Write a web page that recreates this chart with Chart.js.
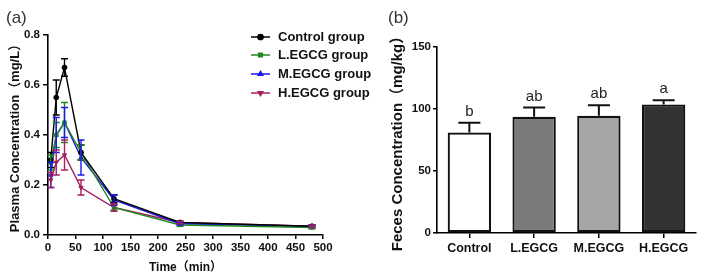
<!DOCTYPE html>
<html lang="en">
<head>
<meta charset="UTF-8">
<title>EGCG plasma and feces concentration</title>
<script src="https://cdn.jsdelivr.net/npm/chart.js"></script>
<style>
  html, body { margin: 0; padding: 0; background: #fff; }
  #wrap { position: relative; width: 702px; height: 280px; }
  #plasma { position: absolute; left: 0; top: 0; }
  #feces { position: absolute; left: 375px; top: 0; }
</style>
</head>
<body>
<div id="wrap">
  <canvas id="plasma" width="375" height="280"></canvas>
  <canvas id="feces" width="327" height="280"></canvas>
</div>
<script>
// (a) plasma concentration over time, mean and SD
const times = [5, 15, 30, 60, 120, 240, 480];
const groupNames = ['Control group', 'L.EGCG group', 'M.EGCG group', 'H.EGCG group'];
const controlMean = [0.30, 0.55, 0.67, 0.33, 0.145, 0.050, 0.035];
const controlErr  = [0.03, 0.07, 0.035, 0.03, 0.015, 0.005, 0.005];
const lowMean     = [0.29, 0.40, 0.45, 0.33, 0.110, 0.040, 0.030];
const lowErr      = [0.03, 0.05, 0.08, 0.03, 0.010, 0.005, 0.005];
const midMean     = [0.24, 0.40, 0.45, 0.31, 0.140, 0.045, 0.035];
const midErr      = [0.05, 0.07, 0.06, 0.07, 0.020, 0.005, 0.005];
const highMean    = [0.22, 0.29, 0.32, 0.19, 0.110, 0.050, 0.035];
const highErr     = [0.03, 0.05, 0.06, 0.03, 0.015, 0.005, 0.005];
const plasmaTicksY = [0, 0.2, 0.4, 0.6, 0.8];

// (b) feces concentration
const fecesLabels  = ['Control', 'L.EGCG', 'M.EGCG', 'H.EGCG'];
const fecesMean    = [81, 93.7, 94.5, 103.6];
const fecesErr     = [8, 7.5, 8.5, 3.5];
const fecesLetters = ['b', 'ab', 'ab', 'a'];

const FONT = 'Arial, "Liberation Sans", "Noto Sans CJK SC", sans-serif';
Chart.defaults.font.family = FONT;
Chart.defaults.color = '#111';

const lineColors = ['#000000', '#1f8a1f', '#1a1aee', '#a81e5e'];
const pointStyles = ['circle', 'rect', 'triangle', 'triangle'];
const pointRots = [0, 0, 0, 180];
const means = [controlMean, lowMean, midMean, highMean];
const errs = [controlErr, lowErr, midErr, highErr];

const plasmaSets = groupNames.map((name, i) => ({
  label: name,
  data: times.map((t, j) => ({ x: t, y: means[i][j] })),
  errors: errs[i],
  borderColor: lineColors[i],
  backgroundColor: lineColors[i],
  borderWidth: 1.4,
  pointStyle: pointStyles[i],
  pointRotation: pointRots[i],
  pointRadius: 2.4,
  pointBorderWidth: 1,
  tension: 0
}));

// error bars with small caps, drawn through the scales
const lineErrorBars = {
  id: 'lineErrorBars',
  afterDatasetsDraw(chart) {
    const ctx = chart.ctx, ys = chart.scales.y;
    chart.data.datasets.forEach((ds, i) => {
      const meta = chart.getDatasetMeta(i);
      ctx.save();
      ctx.strokeStyle = ds.borderColor;
      ctx.lineWidth = 1.4;
      meta.data.forEach((pt, j) => {
        const v = ds.data[j].y, e = ds.errors[j];
        const top = ys.getPixelForValue(v + e), bot = ys.getPixelForValue(v - e);
        ctx.beginPath();
        ctx.moveTo(pt.x, top); ctx.lineTo(pt.x, bot);
        ctx.moveTo(pt.x - 3.5, top); ctx.lineTo(pt.x + 3.5, top);
        ctx.moveTo(pt.x - 3.5, bot); ctx.lineTo(pt.x + 3.5, bot);
        ctx.stroke();
      });
      ctx.restore();
    });
  }
};

const lineLegend = {
  id: 'lineLegend',
  afterDraw(chart) {
    const ctx = chart.ctx;
    const rows = [37, 55, 74, 93];
    chart.data.datasets.forEach((ds, i) => {
      const y = rows[i];
      ctx.save();
      ctx.strokeStyle = ds.borderColor;
      ctx.fillStyle = ds.backgroundColor;
      ctx.lineWidth = 1.5;
      ctx.beginPath();
      ctx.moveTo(251, y); ctx.lineTo(270, y);
      ctx.stroke();
      Chart.helpers.drawPoint(ctx, { pointStyle: ds.pointStyle, rotation: ds.pointRotation, radius: 2.6, borderWidth: 1 }, 260.5, y);
      ctx.fillStyle = '#111';
      ctx.font = 'bold 13px ' + FONT;
      ctx.textBaseline = 'middle';
      ctx.fillText(ds.label, 278, y);
      ctx.restore();
    });
  }
};

function panelLabel(text, x) {
  return {
    id: 'panelLabel',
    afterDraw(chart) {
      const ctx = chart.ctx;
      ctx.save();
      ctx.fillStyle = '#333';
      ctx.font = '17px ' + FONT;
      ctx.textBaseline = 'alphabetic';
      ctx.fillText(text, x, 23);
      ctx.restore();
    }
  };
}

const axisGrid = { drawOnChartArea: false, drawTicks: true, tickLength: 5, color: '#000', lineWidth: 1.5 };
const axisBorder = { color: '#000', width: 1.6 };

new Chart(document.getElementById('plasma'), {
  type: 'line',
  data: { datasets: plasmaSets },
  options: {
    responsive: false,
    animation: false,
    layout: { padding: { top: 35, right: 52, left: 0, bottom: 0 } },
    plugins: { legend: { display: false }, tooltip: { enabled: false } },
    scales: {
      x: {
        type: 'linear', min: 0, max: 500,
        ticks: { stepSize: 50, autoSkip: false, maxRotation: 0, padding: 2, color: '#111', font: { size: 11.5, weight: 'bold' } },
        grid: Object.assign({}, axisGrid, { tickLength: 4 }),
        border: axisBorder,
        title: { display: true, text: 'Time（min）', color: '#111', font: { size: 12, weight: 'bold' }, padding: { top: 0, bottom: 5 } },
        afterFit(s) { s.height = 45; }
      },
      y: {
        min: 0, max: 0.8,
        afterBuildTicks(s) { s.ticks = plasmaTicksY.map(v => ({ value: v })); },
        ticks: { padding: 3, color: '#111', font: { size: 11.5, weight: 'bold' }, callback: v => v.toFixed(1) },
        grid: axisGrid,
        border: axisBorder,
        title: { display: true, text: 'Plasma Concentration（mg/L）', color: '#111', font: { size: 13, weight: 'bold' }, padding: { top: 8, bottom: 0 } },
        afterFit(s) { s.width = 48; }
      }
    }
  },
  plugins: [lineErrorBars, lineLegend, panelLabel('(a)', 6)]
});

// bar chart with upper error bars and significance letters
const barErrors = {
  id: 'barErrors',
  afterDatasetsDraw(chart) {
    const ctx = chart.ctx, ys = chart.scales.y;
    const meta = chart.getDatasetMeta(0);
    ctx.save();
    meta.data.forEach((bar, j) => {
      const base = ys.getPixelForValue(fecesMean[j]);
      const top = ys.getPixelForValue(fecesMean[j] + fecesErr[j]);
      ctx.strokeStyle = '#111';
      ctx.lineWidth = 2;
      ctx.beginPath();
      ctx.moveTo(bar.x, base); ctx.lineTo(bar.x, top);
      ctx.moveTo(bar.x - 11, top); ctx.lineTo(bar.x + 11, top);
      ctx.stroke();
      ctx.fillStyle = '#222';
      ctx.font = '15px ' + FONT;
      ctx.textAlign = 'center';
      ctx.textBaseline = 'alphabetic';
      ctx.fillText(fecesLetters[j], bar.x, top - 7);
    });
    ctx.restore();
  }
};

new Chart(document.getElementById('feces'), {
  type: 'bar',
  data: {
    labels: fecesLabels,
    datasets: [{
      data: fecesMean,
      backgroundColor: ['#ffffff', '#7a7a7a', '#a6a6a6', '#333333'],
      borderColor: '#111',
      borderWidth: 2.2,
      borderSkipped: false,
      barPercentage: 0.67,
      categoryPercentage: 1
    }]
  },
  options: {
    responsive: false,
    animation: false,
    layout: { padding: { top: 47, right: 6, left: 0, bottom: 0 } },
    plugins: { legend: { display: false }, tooltip: { enabled: false } },
    scales: {
      x: {
        ticks: { padding: 3, color: '#111', font: { size: 12.5, weight: 'bold' } },
        grid: Object.assign({}, axisGrid, { offset: false }),
        border: axisBorder,
        afterFit(s) { s.height = 47; }
      },
      y: {
        min: 0, max: 150,
        ticks: { stepSize: 50, padding: 2, color: '#111', font: { size: 11.5, weight: 'bold' } },
        grid: Object.assign({}, axisGrid, { tickLength: 4 }),
        border: axisBorder,
        title: { display: true, text: 'Feces Concentration（mg/kg）', color: '#111', font: { size: 15, weight: 'bold' }, padding: { top: 14, bottom: 0 } },
        afterFit(s) { s.width = 62; }
      }
    }
  },
  plugins: [barErrors, panelLabel('(b)', 13)]
});
</script>
</body>
</html>
